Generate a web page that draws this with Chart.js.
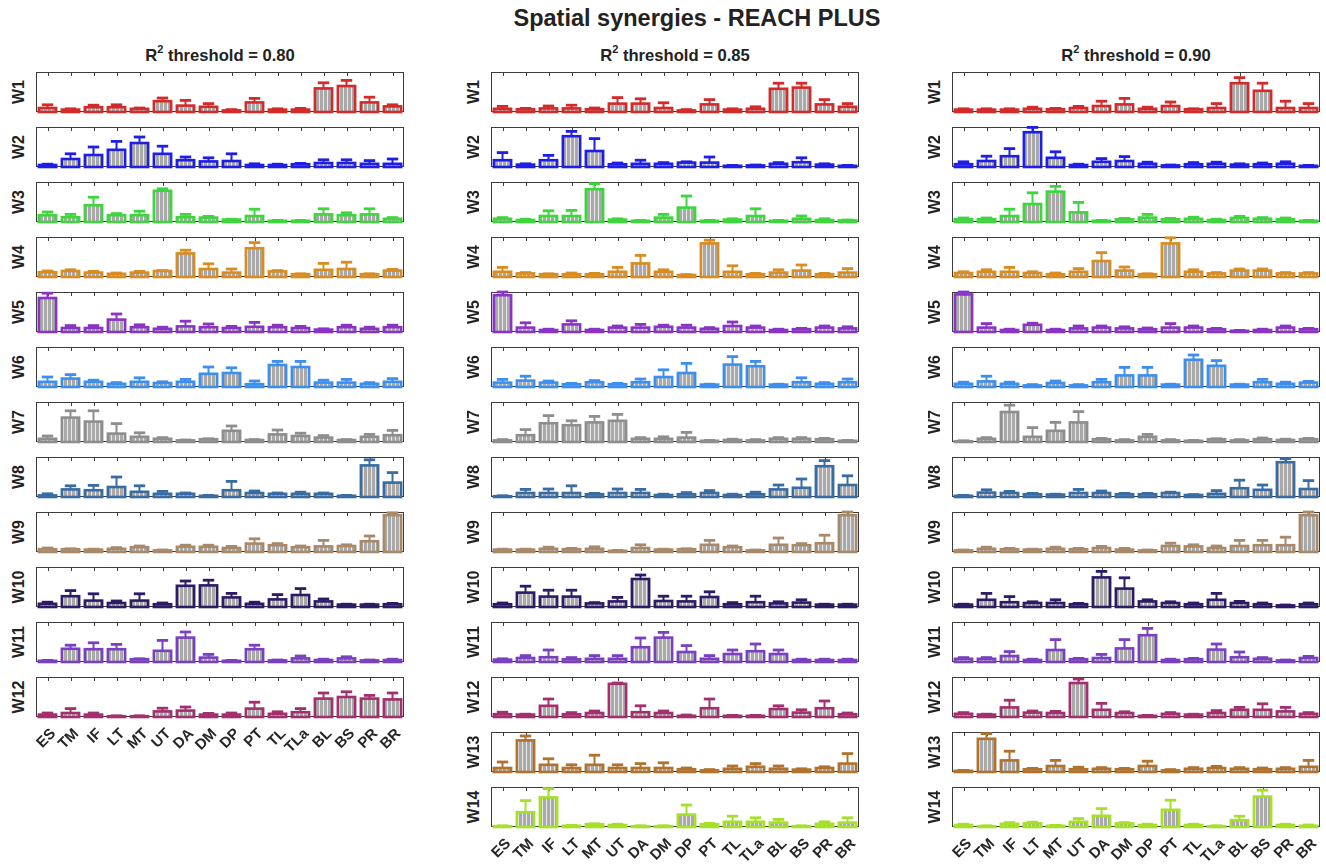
<!DOCTYPE html>
<html>
<head>
<meta charset="utf-8">
<title>Spatial synergies - REACH PLUS</title>
<script src="https://cdn.jsdelivr.net/npm/chart.js@4.4.1/dist/chart.umd.min.js"></script>
<style>
  html, body { margin: 0; padding: 0; background: #ffffff; }
  body { width: 1326px; height: 866px; position: relative; overflow: hidden;
         font-family: "Liberation Sans", Arial, Helvetica, sans-serif; color: #222; }
  .main-title { position: absolute; left: 0; width: 1326px; top: 5px; text-align: center;
                font-weight: bold; font-size: 23.5px; line-height: 26px; padding-left: 68px; box-sizing: border-box; }
  .col-title { position: absolute; width: 368px; top: 47px; text-align: center;
               font-weight: bold; font-size: 16.6px; line-height: 18px; }
  .col-title sup { font-size: 11px; line-height: 0; position: relative; top: -1px; }
  .row-label { position: absolute; font-weight: bold; font-size: 16px; line-height: 16px;
               transform: translate(-50%, -50%) rotate(-90deg); white-space: nowrap; }
  canvas.panel { position: absolute; }
</style>
</head>
<body>
<div class="main-title">Spatial synergies - REACH PLUS</div>
<script>
// ---- categories and labels ----
const muscles = ['ES', 'TM', 'IF', 'LT', 'MT', 'UT', 'DA', 'DM', 'DP', 'PT', 'TL', 'TLa', 'BL', 'BS', 'PR', 'BR'];
const thresholds = ['0.80', '0.85', '0.90'];
const synergyNames = ['W1', 'W2', 'W3', 'W4', 'W5', 'W6', 'W7', 'W8', 'W9', 'W10', 'W11', 'W12', 'W13', 'W14'];
const synergyColors = ['#d42a2a', '#1e1ee6', '#3dd63d', '#d98c1f', '#8a34c6', '#3d8fef', '#8e8e8e',
                       '#386ca3', '#a8896a', '#2e1b66', '#7a40c0', '#a3306e', '#b0722c', '#a6e02a'];

// ---- mean weights (rows = synergies, columns = muscles) ----
const mean80 = [
  [0.10,0.06,0.12,0.12,0.08,0.27,0.16,0.13,0.04,0.24,0.06,0.06,0.59,0.65,0.24,0.14],
  [0.05,0.20,0.30,0.43,0.60,0.33,0.17,0.14,0.15,0.05,0.05,0.07,0.10,0.10,0.08,0.08],
  [0.17,0.12,0.42,0.17,0.17,0.78,0.12,0.11,0.06,0.15,0.03,0.03,0.19,0.17,0.19,0.08],
  [0.12,0.15,0.11,0.08,0.11,0.15,0.59,0.20,0.11,0.72,0.14,0.07,0.18,0.20,0.07,0.16],
  [0.85,0.10,0.10,0.31,0.12,0.08,0.14,0.12,0.10,0.13,0.12,0.10,0.06,0.12,0.08,0.12],
  [0.13,0.21,0.13,0.08,0.13,0.10,0.13,0.33,0.35,0.07,0.55,0.50,0.11,0.11,0.08,0.13],
  [0.08,0.61,0.51,0.21,0.13,0.08,0.04,0.07,0.28,0.05,0.19,0.15,0.11,0.05,0.13,0.17],
  [0.04,0.19,0.17,0.25,0.13,0.08,0.08,0.03,0.17,0.10,0.08,0.08,0.08,0.03,0.79,0.36],
  [0.07,0.07,0.06,0.08,0.12,0.04,0.13,0.13,0.10,0.21,0.17,0.12,0.14,0.15,0.27,0.92],
  [0.08,0.27,0.16,0.10,0.16,0.07,0.53,0.54,0.24,0.08,0.19,0.30,0.14,0.06,0.06,0.07],
  [0.03,0.33,0.32,0.32,0.07,0.28,0.61,0.11,0.03,0.32,0.04,0.09,0.05,0.09,0.04,0.05],
  [0.06,0.10,0.06,0.02,0.02,0.14,0.16,0.06,0.06,0.21,0.08,0.12,0.46,0.50,0.46,0.44]
];
const sd80 = [
  [0.08,0.02,0.05,0.06,0.02,0.08,0.13,0.08,0.02,0.10,0.02,0.03,0.14,0.14,0.13,0.04],
  [0.02,0.13,0.20,0.21,0.15,0.19,0.08,0.09,0.18,0.03,0.02,0.02,0.08,0.08,0.08,0.12],
  [0.08,0.07,0.20,0.04,0.10,0.05,0.07,0.03,0.01,0.17,0.01,0.01,0.14,0.06,0.14,0.03],
  [0.03,0.03,0.03,0.02,0.03,0.01,0.08,0.13,0.09,0.14,0.02,0.01,0.16,0.17,0.01,0.03],
  [0.12,0.06,0.06,0.14,0.06,0.04,0.13,0.08,0.04,0.11,0.05,0.04,0.02,0.05,0.04,0.05],
  [0.12,0.10,0.04,0.03,0.10,0.03,0.06,0.17,0.13,0.08,0.09,0.14,0.06,0.08,0.03,0.08],
  [0.07,0.17,0.27,0.25,0.10,0.03,0.01,0.01,0.12,0.01,0.11,0.07,0.05,0.01,0.06,0.12],
  [0.04,0.09,0.12,0.25,0.15,0.06,0.02,0.01,0.22,0.05,0.02,0.04,0.02,0.01,0.14,0.25],
  [0.03,0.01,0.01,0.03,0.03,0.01,0.04,0.04,0.04,0.12,0.04,0.03,0.15,0.03,0.13,0.06],
  [0.04,0.14,0.17,0.05,0.17,0.03,0.12,0.13,0.10,0.04,0.12,0.16,0.06,0.01,0.01,0.02],
  [0.01,0.09,0.16,0.12,0.01,0.26,0.14,0.08,0.01,0.10,0.01,0.06,0.02,0.04,0.01,0.02],
  [0.04,0.11,0.04,0.01,0.01,0.08,0.09,0.03,0.04,0.16,0.05,0.09,0.14,0.13,0.08,0.16]
];

const mean85 = [
  [0.08,0.07,0.09,0.09,0.07,0.21,0.21,0.10,0.04,0.19,0.06,0.08,0.58,0.61,0.19,0.13],
  [0.17,0.06,0.17,0.77,0.40,0.07,0.08,0.08,0.11,0.11,0.03,0.04,0.08,0.12,0.06,0.03],
  [0.08,0.05,0.15,0.15,0.82,0.06,0.03,0.11,0.36,0.03,0.06,0.15,0.03,0.08,0.05,0.04],
  [0.13,0.09,0.07,0.07,0.07,0.13,0.34,0.13,0.05,0.84,0.13,0.07,0.11,0.16,0.07,0.11],
  [0.92,0.11,0.05,0.19,0.05,0.11,0.11,0.13,0.11,0.08,0.15,0.11,0.05,0.07,0.11,0.09],
  [0.11,0.16,0.11,0.07,0.12,0.07,0.12,0.25,0.35,0.06,0.56,0.52,0.06,0.12,0.08,0.12],
  [0.04,0.17,0.47,0.42,0.49,0.53,0.08,0.08,0.11,0.03,0.05,0.04,0.08,0.08,0.07,0.03],
  [0.02,0.10,0.10,0.10,0.07,0.10,0.10,0.05,0.07,0.10,0.05,0.07,0.19,0.23,0.77,0.30],
  [0.06,0.06,0.08,0.07,0.08,0.03,0.10,0.06,0.07,0.18,0.12,0.04,0.18,0.17,0.22,0.92],
  [0.07,0.36,0.26,0.26,0.09,0.14,0.70,0.15,0.14,0.25,0.07,0.12,0.09,0.11,0.06,0.06],
  [0.06,0.10,0.12,0.07,0.08,0.08,0.37,0.61,0.25,0.08,0.20,0.27,0.20,0.05,0.05,0.05],
  [0.07,0.06,0.28,0.07,0.10,0.83,0.12,0.10,0.03,0.22,0.03,0.03,0.20,0.11,0.22,0.07],
  [0.10,0.79,0.18,0.10,0.18,0.10,0.10,0.10,0.07,0.04,0.08,0.13,0.08,0.06,0.10,0.21],
  [0.02,0.37,0.74,0.03,0.07,0.05,0.02,0.02,0.31,0.07,0.13,0.13,0.11,0.02,0.08,0.11]
];
const sd85 = [
  [0.06,0.02,0.06,0.08,0.03,0.15,0.12,0.13,0.02,0.12,0.02,0.05,0.14,0.11,0.12,0.08],
  [0.19,0.02,0.12,0.12,0.31,0.03,0.09,0.03,0.02,0.14,0.01,0.01,0.03,0.11,0.02,0.01],
  [0.03,0.02,0.13,0.14,0.14,0.02,0.01,0.08,0.29,0.01,0.02,0.18,0.01,0.07,0.03,0.01],
  [0.11,0.02,0.01,0.03,0.02,0.11,0.20,0.05,0.01,0.08,0.15,0.02,0.07,0.14,0.02,0.10],
  [0.08,0.12,0.02,0.09,0.02,0.04,0.08,0.04,0.06,0.03,0.10,0.04,0.02,0.02,0.04,0.04],
  [0.08,0.11,0.04,0.02,0.04,0.02,0.08,0.18,0.24,0.01,0.20,0.12,0.01,0.11,0.03,0.08],
  [0.02,0.14,0.19,0.11,0.15,0.16,0.03,0.05,0.13,0.01,0.02,0.02,0.03,0.03,0.02,0.01],
  [0.01,0.09,0.10,0.18,0.02,0.10,0.09,0.02,0.04,0.06,0.02,0.05,0.11,0.22,0.14,0.23],
  [0.01,0.01,0.04,0.02,0.05,0.01,0.08,0.01,0.01,0.11,0.03,0.01,0.17,0.04,0.20,0.08],
  [0.03,0.16,0.16,0.16,0.02,0.10,0.10,0.12,0.13,0.13,0.04,0.15,0.04,0.07,0.01,0.01],
  [0.02,0.06,0.18,0.04,0.08,0.08,0.23,0.13,0.16,0.08,0.10,0.18,0.10,0.02,0.02,0.02],
  [0.05,0.01,0.17,0.04,0.05,0.02,0.16,0.05,0.02,0.23,0.01,0.01,0.08,0.07,0.18,0.03],
  [0.15,0.11,0.15,0.08,0.24,0.08,0.11,0.13,0.03,0.02,0.07,0.08,0.07,0.02,0.03,0.25],
  [0.01,0.29,0.22,0.01,0.01,0.02,0.01,0.01,0.24,0.02,0.14,0.10,0.08,0.01,0.05,0.12]
];

const mean90 = [
  [0.06,0.06,0.06,0.08,0.07,0.10,0.15,0.19,0.08,0.15,0.07,0.10,0.72,0.53,0.10,0.10],
  [0.07,0.15,0.27,0.87,0.23,0.05,0.13,0.15,0.08,0.04,0.07,0.08,0.06,0.07,0.08,0.03],
  [0.07,0.07,0.15,0.45,0.76,0.24,0.03,0.07,0.11,0.07,0.08,0.05,0.10,0.08,0.07,0.03],
  [0.10,0.13,0.13,0.10,0.07,0.13,0.40,0.16,0.07,0.84,0.13,0.09,0.16,0.16,0.09,0.09],
  [0.94,0.11,0.05,0.18,0.05,0.09,0.11,0.09,0.07,0.11,0.11,0.07,0.03,0.05,0.11,0.07],
  [0.08,0.14,0.08,0.04,0.10,0.04,0.12,0.29,0.29,0.06,0.68,0.53,0.06,0.12,0.08,0.11],
  [0.02,0.08,0.75,0.13,0.28,0.49,0.07,0.04,0.13,0.04,0.03,0.07,0.04,0.07,0.05,0.07],
  [0.03,0.11,0.10,0.07,0.06,0.10,0.10,0.07,0.07,0.10,0.05,0.08,0.22,0.18,0.87,0.20],
  [0.04,0.08,0.07,0.06,0.08,0.07,0.10,0.06,0.04,0.15,0.14,0.10,0.15,0.17,0.17,0.92],
  [0.06,0.18,0.12,0.10,0.10,0.07,0.74,0.46,0.14,0.10,0.07,0.18,0.10,0.07,0.04,0.07],
  [0.08,0.08,0.15,0.05,0.30,0.07,0.10,0.34,0.67,0.05,0.07,0.31,0.12,0.08,0.04,0.10],
  [0.08,0.06,0.24,0.11,0.10,0.85,0.18,0.10,0.03,0.08,0.06,0.10,0.18,0.18,0.14,0.08],
  [0.03,0.83,0.29,0.07,0.15,0.07,0.08,0.07,0.15,0.04,0.08,0.10,0.08,0.07,0.08,0.13],
  [0.05,0.02,0.08,0.09,0.03,0.13,0.28,0.09,0.05,0.43,0.05,0.02,0.17,0.76,0.05,0.03]
];
const sd90 = [
  [0.02,0.02,0.02,0.04,0.02,0.04,0.12,0.15,0.04,0.10,0.01,0.11,0.14,0.19,0.17,0.11],
  [0.06,0.12,0.19,0.12,0.15,0.02,0.08,0.11,0.04,0.01,0.04,0.04,0.02,0.03,0.05,0.01],
  [0.03,0.03,0.17,0.28,0.13,0.25,0.01,0.02,0.08,0.02,0.04,0.02,0.04,0.03,0.03,0.01],
  [0.03,0.05,0.11,0.03,0.03,0.08,0.21,0.09,0.01,0.14,0.05,0.02,0.04,0.04,0.02,0.02],
  [0.06,0.10,0.02,0.04,0.02,0.06,0.04,0.04,0.03,0.10,0.04,0.02,0.01,0.02,0.04,0.02],
  [0.04,0.13,0.04,0.02,0.05,0.02,0.07,0.20,0.20,0.01,0.12,0.13,0.01,0.07,0.04,0.03],
  [0.01,0.03,0.17,0.23,0.21,0.27,0.02,0.02,0.06,0.02,0.01,0.01,0.02,0.03,0.02,0.02],
  [0.01,0.07,0.04,0.02,0.01,0.09,0.05,0.02,0.02,0.02,0.01,0.08,0.20,0.12,0.09,0.21],
  [0.01,0.04,0.02,0.01,0.04,0.02,0.04,0.03,0.01,0.07,0.04,0.05,0.14,0.12,0.20,0.08],
  [0.01,0.16,0.14,0.03,0.08,0.02,0.15,0.27,0.04,0.03,0.03,0.16,0.04,0.03,0.01,0.03],
  [0.03,0.03,0.11,0.02,0.26,0.02,0.09,0.22,0.17,0.02,0.02,0.14,0.13,0.03,0.01,0.04],
  [0.03,0.01,0.18,0.04,0.04,0.10,0.16,0.03,0.01,0.03,0.01,0.06,0.06,0.15,0.10,0.03],
  [0.01,0.13,0.23,0.02,0.14,0.05,0.03,0.02,0.12,0.02,0.03,0.04,0.03,0.03,0.03,0.16],
  [0.02,0.01,0.03,0.03,0.01,0.08,0.18,0.02,0.02,0.24,0.02,0.01,0.10,0.16,0.02,0.02]
];

// ---- layout ----
const columnLeft = [36, 491, 952];
const panelW = 368, panelH = 40, firstTop = 72, rowStep = 55, pad = 12, labelBand = 52;
const fontFamily = '"Liberation Sans", Arial, Helvetica, sans-serif';

const columns = [
  { threshold: thresholds[0], mean: mean80, sd: sd80 },
  { threshold: thresholds[1], mean: mean85, sd: sd85 },
  { threshold: thresholds[2], mean: mean90, sd: sd90 }
];

// grey striped fill used inside each bar
function stripeFill() {
  const c = document.createElement('canvas');
  c.width = 4; c.height = 2;
  const g = c.getContext('2d');
  g.fillStyle = '#a9a9a9'; g.fillRect(0, 0, 4, 2);
  g.fillStyle = '#e8e8e8'; g.fillRect(3, 0, 1, 2);
  return g.createPattern(c, 'repeat');
}

// axes box with inward top ticks, coloured bar outlines and mean+SD whiskers
const panelDecor = {
  id: 'panelDecor',
  afterDatasetsDraw(chart, args, opts) {
    const ctx = chart.ctx, a = chart.chartArea;
    const xs = chart.scales.x, ys = chart.scales.y;
    ctx.save();
    ctx.strokeStyle = '#3c3c3c';
    ctx.lineWidth = 1;
    ctx.strokeRect(Math.round(a.left) + 0.5, Math.round(a.top) + 0.5,
                   Math.round(a.right - a.left) - 1, Math.round(a.bottom - a.top) - 1);
    ctx.beginPath();
    for (let i = 0; i < opts.count; i++) {
      const px = Math.round(xs.getPixelForValue(i)) + 0.5;
      ctx.moveTo(px, a.top); ctx.lineTo(px, a.top + 4);
    }
    ctx.stroke();

    const meta = chart.getDatasetMeta(0);
    const values = chart.data.datasets[0].data;
    ctx.strokeStyle = opts.color;
    meta.data.forEach((bar, i) => {
      const p = bar.getProps(['x', 'y', 'base', 'width'], true);
      ctx.lineWidth = 2.6;
      ctx.strokeRect(p.x - p.width / 2, p.y, p.width, p.base - p.y);
      const top = ys.getPixelForValue(values[i] + opts.spread[i]);
      const half = p.width * 0.33;
      ctx.lineWidth = 2;
      ctx.beginPath();
      ctx.moveTo(p.x, p.y); ctx.lineTo(p.x, top);
      ctx.stroke();
      ctx.lineWidth = 2.8;
      ctx.beginPath();
      ctx.moveTo(p.x - half, top); ctx.lineTo(p.x + half, top);
      ctx.stroke();
    });
    ctx.restore();
  }
};

const fill = stripeFill();

columns.forEach((col, c) => {
  const left = columnLeft[c];
  const title = document.createElement('div');
  title.className = 'col-title';
  title.style.left = left + 'px';
  title.innerHTML = 'R<sup>2</sup> threshold = ' + col.threshold;
  document.body.appendChild(title);

  col.mean.forEach((row, r) => {
    const top = firstTop + r * rowStep;
    const isLast = r === col.mean.length - 1;

    const lab = document.createElement('div');
    lab.className = 'row-label';
    lab.textContent = synergyNames[r];
    lab.style.left = (left - 17) + 'px';
    lab.style.top = (top + panelH / 2) + 'px';
    document.body.appendChild(lab);

    const cv = document.createElement('canvas');
    cv.className = 'panel';
    cv.width = panelW + 2 * pad;
    cv.height = panelH + 2 * pad + (isLast ? labelBand : 0);
    cv.style.left = (left - pad) + 'px';
    cv.style.top = (top - pad) + 'px';
    document.body.appendChild(cv);

    const xScale = {
      display: isLast,
      offset: true,
      grid: { display: false, drawTicks: false },
      border: { display: false },
      ticks: {
        autoSkip: false, minRotation: 45, maxRotation: 45, padding: 8,
        labelOffset: 6,
        color: '#262626',
        font: { family: fontFamily, size: 15, weight: 'bold' }
      }
    };
    if (isLast) xScale.afterFit = (scale) => { scale.height = labelBand; };

    new Chart(cv, {
      type: 'bar',
      data: {
        labels: muscles,
        datasets: [{
          data: row,
          backgroundColor: fill,
          borderWidth: 0,
          barPercentage: 0.75,
          categoryPercentage: 1.0
        }]
      },
      options: {
        responsive: false,
        animation: false,
        devicePixelRatio: 1,
        layout: { padding: { left: pad, right: pad, top: pad, bottom: pad } },
        plugins: {
          legend: { display: false },
          tooltip: { enabled: false },
          panelDecor: { color: synergyColors[r], spread: col.sd[r], count: muscles.length }
        },
        scales: {
          x: xScale,
          y: { display: false, min: 0, max: 1 }
        }
      },
      plugins: [panelDecor]
    });
  });
});
</script>
</body>
</html>
